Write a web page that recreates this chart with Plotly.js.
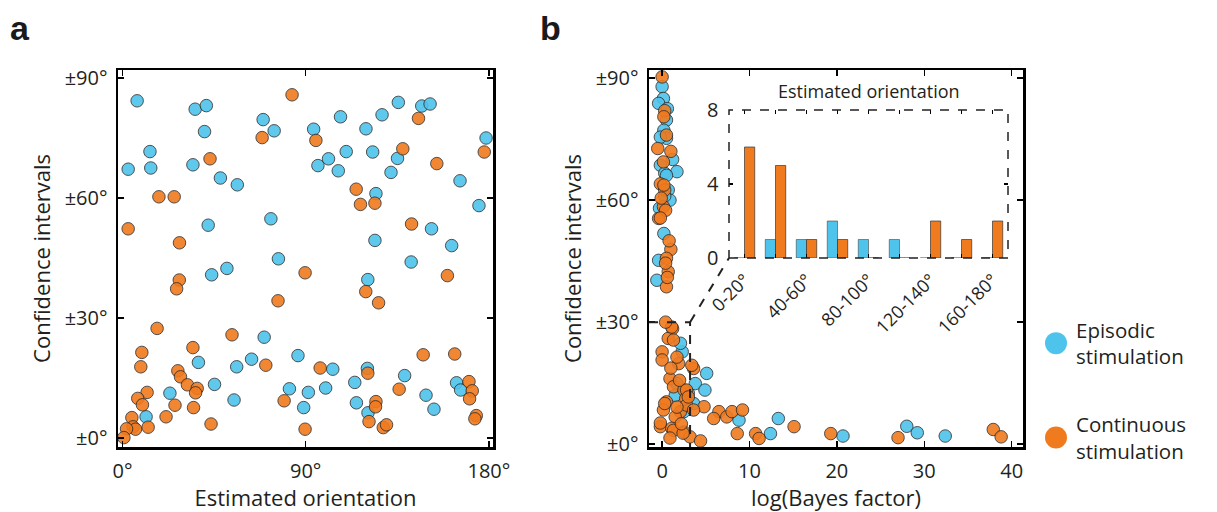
<!DOCTYPE html>
<html><head><meta charset="utf-8">
<script src="https://cdn.plot.ly/plotly-3.0.1.min.js"></script>
<style>html,body{margin:0;padding:0;background:#fff}#chart{width:1217px;height:512px}</style>
</head><body><div id="chart"></div>
<script>
// ---------- DATA ----------
// Panel a: estimated orientation (deg) vs confidence interval (deg)
const oriEpisodic = [7.2,2.8,13.5,13.9,35.7,41.2,40.3,34.6,48.1,56.4,42.1,69.1,74.5,72.9,76.6,43.8,51.3,93.9,96,101.2,106,107.1,109.9,119.6,122.9,124.5,127.5,131.9,135.1,135.5,147,151.1,124,120.5,151.8,141.8,161.7,165.8,175.1,178.6,
  69.6,37.3,56.1,63.4,45.2,23.3,54.8,11.6,86.2,82,91.3,89,99.8,103.3,114.1,114.9,120.3,120.6,138.6,149.1,153,164.1,166.1];
const ciEpisodicA = [84.3,67.2,71.6,67.5,82.2,83.1,76.6,68.3,65,63.3,53.2,79.6,76.8,54.8,44.8,40.8,42.4,77.2,68.1,69.8,66.8,80.3,71.6,77.3,71.5,61.1,80.8,66.4,69.9,83.9,83,83.5,49.4,39.6,52.3,44,48.1,64.3,58.1,75,
  25.2,18.9,17.8,19.7,13.4,11.2,9.5,5.3,20.6,12.3,11.4,7.6,12.5,17.2,13.9,8.8,17.4,6.3,15.6,10.7,7.2,13.8,12];
const oriContinuous = [83.3,68.6,95,43,17.9,25.4,2.8,28,27.9,26.6,76.4,89.7,114.8,116.9,124,119.5,125.8,137.7,145.4,154.4,142,159.6,177.7,
  17,53.8,34.6,9.5,9,70.4,97.1,27.2,28.5,31.9,36.7,35.9,12.1,7.5,9.8,25.8,34.9,21.4,4.6,5.2,6.4,2,12.6,0.7,43.5,79.4,89.7,120.5,124.5,124.3,121.1,128.1,129.7,135.9,147.7,163.2,170.2,171.8,170.5,173.8,173.1];
const ciContinuousA = [85.8,75.1,74.4,69.8,60.3,60.3,52.3,48.8,39.5,37.3,34.3,41.3,62.2,58.4,58.7,36.6,33.8,72.3,79.9,68.6,53.5,40.6,71.5,
  27.4,25.8,22.6,21.4,17.8,18.2,17.5,16.8,15.3,13.3,12.4,11.3,11.4,9.9,8.3,8.2,7.6,5.3,5.1,2.8,2.2,2.3,2.7,0.1,3.5,9.3,2.2,16.2,9.1,7.8,4.1,2.6,3.3,12.2,20.8,21,14.1,11.8,9.8,5.6,4.8];

// Panel b: log(Bayes factor) vs confidence interval (deg)
const bfEpisodic = [0,0.15,0.5,0.2,0.5,-0.2,0.3,1.7,0.7,0.2,-0.4,-0.6,2.3,1.7,3.8,5.1,4.9,3.6,8.8,13.3,12.4,20.7,28,29.2,32.4,
  -0.4,-0.2,0.5,0.9,0.3,1.2,-0.3,2.1,1.5,3,2.5,0.6];
const ciEpisodicB = [87.9,85,79.7,77.2,75.2,68.6,66.6,67,62.5,51.8,45.2,40.3,22.7,14.9,14.9,17.4,13.3,10,5.9,6.3,2.6,2,4.4,2.8,2,
  83.8,75.5,66.1,60,61,70,58,24.8,12,12.5,8,82.5];
const bfContinuous = [0,0.3,0.2,-0.5,0.15,-0.2,0.3,0.15,-0.4,1,0.5,0.7,0.5,1.2,0.7,0,1.9,3.6,0.9,0,1.3,2.5,2.7,0.5,2.1,1.5,2.8,4.8,6.5,5.9,7.4,8,9.2,8.6,10.7,11.1,15.1,19.3,27,37.9,38.8,-0.2,1.1,2.5,3.2,4.4,0.15,
  0.2,-0.1,0.4,-0.2,0.4,0.6,1.1,1.3,1.7,1,3.4,2,2.8,0.3,1.7,3,3.6,-0.2,1.3,2.4,0.5,1,0.8,0.4,2.2,0.9];
const ciContinuousB = [90.3,82,80.5,72.7,69.4,64,62.5,58.4,55.5,47.9,45.7,42.4,38.7,28.4,26,22.7,19.8,18.6,16.1,20.7,14.1,13.3,11.2,10.4,8,6.7,9.6,9.2,8,6.3,6.7,8,8.4,2.6,2.6,1.4,4.3,2.6,1.6,3.6,1.8,4.3,3.9,3,1.8,0.8,8.4,
  63.7,60.5,57.5,55.6,44.5,41,28.8,25.6,21.4,18.7,19.4,15.7,13.3,10,9.1,11.6,8.4,5.2,3.4,2.7,76,72,50,30,5,1.5];

// Inset histogram: counts of estimated orientation
const binPos = [1,2,3,4,5,6,7,8,9];
const binLabels = ['0-20°','','40-60°','','80-100°','','120-140°','','160-180°'];
const countEpisodic = [0,1,1,2,1,1,0,0,0];
const countContinuous = [6,5,1,1,0,0,2,1,2];

// Tick labels
const oriTicks = [0,90,180], oriTickText = ['0°','90°','180°'];
const ciTicks = [0,30,60,90], ciTickText = ['±0°','±30°','±60°','±90°'];
const bfTicks = [0,10,20,30,40];
const countTicks = [0,4,8];

// ---------- STYLE ----------
const BLUE = '#4ec3ec', ORANGE = '#f07a1e', INK = '#231f20';
const FONT = 'Open Sans, Noto Sans, sans-serif';
const W = 1217, H = 512;
const dom = (a,b)=>[a/W, b/W];
const vdom = (top,bottom)=>[1-bottom/H, 1-top/H];

const xA = {domain: dom(118,493), range:[-2.2,182]};
const yA = {domain: vdom(70,447), range:[-2.25,92]};
const xB = {domain: dom(649,1023), range:[-1.5,41.3]};
const yB = {domain: vdom(70,447), range:[-0.7,92]};
const xI = {domain: dom(729,1008), range:[0.5,9.5]};
const yI = {domain: vdom(110,258), range:[0,8]};

const mk = (c)=>({color:c, size:12.5, opacity:0.9, line:{color:'#2a2a2a', width:0.9}});

const traces = [
  {type:'scatter', mode:'markers', x:oriEpisodic, y:ciEpisodicA, xaxis:'x', yaxis:'y', marker:mk(BLUE), showlegend:false},
  {type:'scatter', mode:'markers', x:oriContinuous, y:ciContinuousA, xaxis:'x', yaxis:'y', marker:mk(ORANGE), showlegend:false},
  {type:'scatter', mode:'markers', x:bfEpisodic, y:ciEpisodicB, xaxis:'x2', yaxis:'y2', marker:mk(BLUE), showlegend:false},
  {type:'scatter', mode:'markers', x:bfContinuous, y:ciContinuousB, xaxis:'x2', yaxis:'y2', marker:mk(ORANGE), showlegend:false},
  {type:'bar', x:binPos, y:countEpisodic, xaxis:'x3', yaxis:'y3', marker:{color:BLUE, line:{color:'rgba(60,60,60,0.7)', width:0.8}}, showlegend:false},
  {type:'bar', x:binPos, y:countContinuous, xaxis:'x3', yaxis:'y3', marker:{color:ORANGE, line:{color:'rgba(40,40,40,0.8)', width:0.8}}, showlegend:false},
  // legend entries
  {type:'scatter', mode:'markers', x:[null], y:[null], xaxis:'x2', yaxis:'y2', name:'Episodic<br>stimulation', legendgroup:'ep', marker:{color:BLUE, size:22, line:{width:0}}},
  {type:'scatter', mode:'markers', x:[null], y:[null], xaxis:'x2', yaxis:'y2', name:'Continuous<br>stimulation', legendgroup:'co', marker:{color:ORANGE, size:22, line:{width:0}}}
];

const baseAxis = {
  showline:true, linewidth:2.5, linecolor:'#000', mirror:'all',
  ticks:'inside', ticklen:6, tickwidth:1.5, tickcolor:'#000',
  showgrid:false, zeroline:false, fixedrange:true,
  tickfont:{family:FONT, size:20, color:INK}, ticklabelstandoff:4
};
const titleFont = {family:FONT, size:22, color:INK};

function toPaperX(ax, v){ return ax.domain[0] + (v-ax.range[0])/(ax.range[1]-ax.range[0])*(ax.domain[1]-ax.domain[0]); }
function toPaperY(ax, v){ return ax.domain[0] + (v-ax.range[0])/(ax.range[1]-ax.range[0])*(ax.domain[1]-ax.domain[0]); }

const zoomX = 3.2, zoomY = 30;

const layout = {
  width:W, height:H, margin:{l:0,r:0,t:0,b:0},
  paper_bgcolor:'#fff', plot_bgcolor:'rgba(0,0,0,0)',
  font:{family:FONT, color:INK},
  barmode:'group', bargap:0.34, bargroupgap:0,
  xaxis: Object.assign({}, baseAxis, xA, {anchor:'y', tickvals:oriTicks, ticktext:oriTickText, title:{text:'Estimated orientation', font:titleFont, standoff:7}}),
  yaxis: Object.assign({}, baseAxis, yA, {anchor:'x', tickvals:ciTicks, ticktext:ciTickText, title:{text:'Confidence intervals', font:titleFont, standoff:8}}),
  xaxis2: Object.assign({}, baseAxis, xB, {anchor:'y2', tickvals:bfTicks, title:{text:'log(Bayes factor)', font:titleFont, standoff:7}}),
  yaxis2: Object.assign({}, baseAxis, yB, {anchor:'x2', tickvals:ciTicks, ticktext:ciTickText, title:{text:'Confidence intervals', font:titleFont, standoff:8}}),
  xaxis3: Object.assign({}, baseAxis, xI, {anchor:'y3', linecolor:'rgba(0,0,0,0)', ticklen:4, tickwidth:1.2, tickvals:binPos, ticktext:binLabels, tickangle:-45, tickfont:{family:FONT, size:18, color:INK}, ticklabelstandoff:2}),
  yaxis3: Object.assign({}, baseAxis, yI, {anchor:'x3', linecolor:'rgba(0,0,0,0)', ticklen:4, tickwidth:1.2, tickvals:countTicks, tickfont:{family:FONT, size:20, color:INK}, ticklabelstandoff:4}),
  showlegend:true,
  legend:{x:1036/W, xanchor:'left', y:1-310/H, yanchor:'top', font:{family:FONT, size:20.5, color:INK}, itemsizing:'trace', tracegroupgap:38, traceorder:'grouped', bgcolor:'rgba(0,0,0,0)'},
  shapes:[
    {type:'rect', xref:'x3 domain', yref:'y3 domain', x0:0, x1:1, y0:0, y1:1, line:{color:'#222', width:1.5, dash:'dash'}},
    {type:'path', xref:'x2', yref:'y2', path:`M ${xB.range[0]},${zoomY} L ${zoomX},${zoomY} L ${zoomX},${yB.range[0]}`, line:{color:'#222', width:2, dash:'dash'}},
    {type:'line', xref:'paper', yref:'paper', x0:toPaperX(xB, zoomX), y0:toPaperY(yB, zoomY), x1:xI.domain[0], y1:yI.domain[0], line:{color:'#222', width:2, dash:'dash'}}
  ],
  annotations:[
    {text:'<b>a</b>', xref:'paper', yref:'paper', x:8/W, y:1-28/H, xanchor:'left', yanchor:'middle', showarrow:false, font:{family:'Liberation Sans, Arial, sans-serif', size:34, color:'#1a1a1a'}},
    {text:'<b>b</b>', xref:'paper', yref:'paper', x:538/W, y:1-28/H, xanchor:'left', yanchor:'middle', showarrow:false, font:{family:'Liberation Sans, Arial, sans-serif', size:34, color:'#1a1a1a'}},
    {text:'Estimated orientation', xref:'x3 domain', yref:'y3 domain', x:0.5, y:1, yshift:5, xanchor:'center', yanchor:'bottom', showarrow:false, font:{family:FONT, size:18, color:INK}}
  ]
};

Plotly.newPlot('chart', traces, layout, {staticPlot:true, displayModeBar:false}).then(function(){
  // enlarge legend key circles to match the reference key size
  document.querySelectorAll('.legend .legendpoints path.scatterpts').forEach(function(p){
    p.setAttribute('d','M11,0A11,11 0 1,1 0,-11A11,11 0 0,1 11,0Z');
  });
});
</script></body></html>
